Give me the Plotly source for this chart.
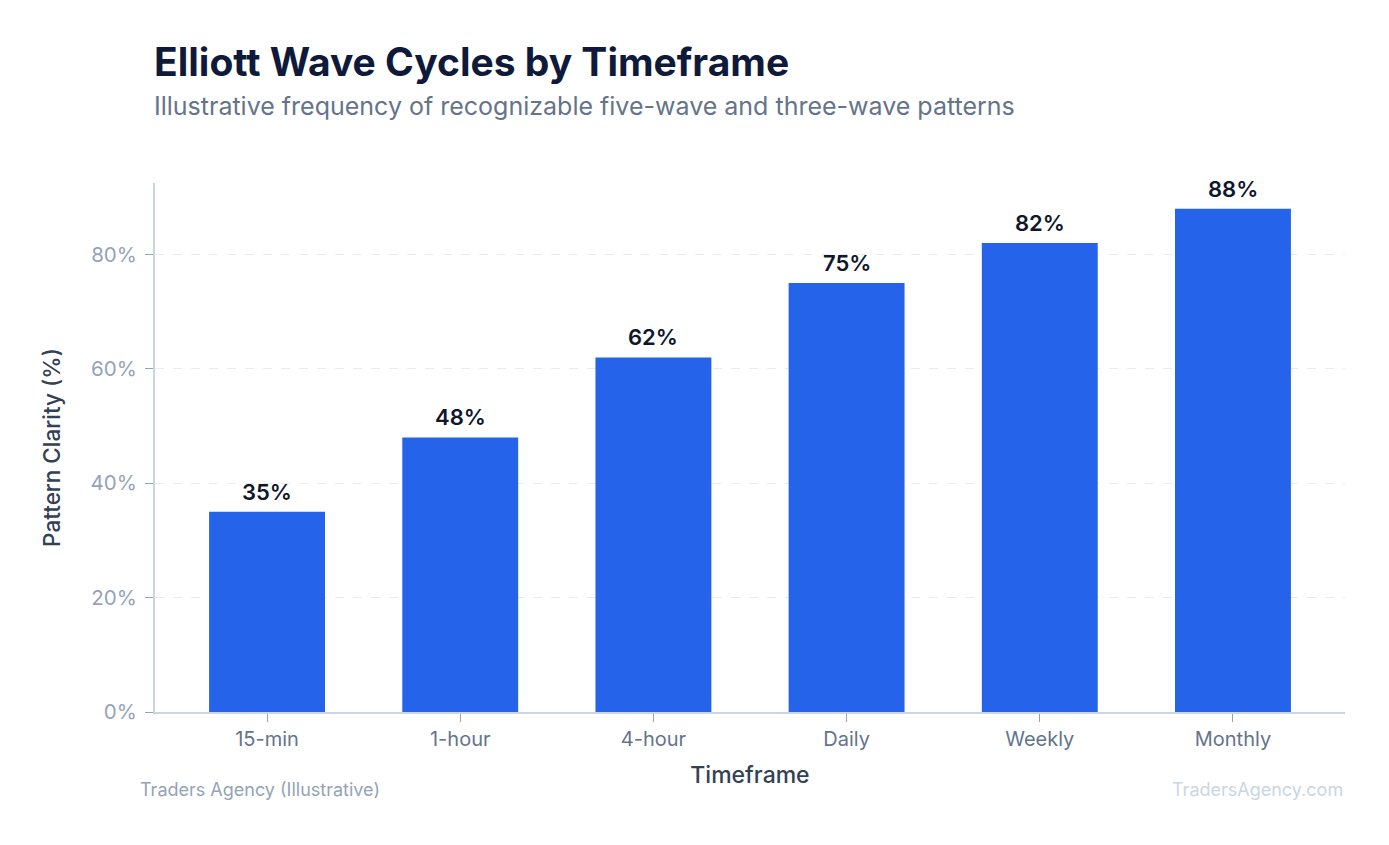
import plotly.graph_objects as go

timeframes = ['15-min', '1-hour', '4-hour', 'Daily', 'Weekly', 'Monthly']
clarity = [35, 48, 62, 75, 82, 88]
labels = [f'{v}%' for v in clarity]
y_ticks = [0, 20, 40, 60, 80]
y_tick_text = [f'{t}%' for t in y_ticks]

fig = go.Figure(go.Bar(
    x=timeframes,
    y=clarity,
    marker=dict(color='#2563eb', line=dict(width=0)),
    width=0.6,
    hovertemplate='%{x}: %{y}%<extra></extra>',
))

# value labels above each bar
for tf, v, lab in zip(timeframes, clarity, labels):
    fig.add_annotation(x=tf, y=v, text=lab, showarrow=False,
                       yanchor='bottom', yshift=5,
                       font=dict(family='Inter', size=22, color='#0f172a', weight=600))

fig.update_layout(
    width=1389,
    height=845,
    paper_bgcolor='white',
    plot_bgcolor='white',
    font=dict(family='Inter', color='#64748b'),
    margin=dict(l=147, r=52, t=175, b=141),
    showlegend=False,
    xaxis=dict(
        title=dict(text='Timeframe', font=dict(size=23, color='#334155', weight=500), standoff=17),
        tickfont=dict(size=20, color='#64748b'),
        range=[-0.58, 5.58],
        showline=True, linecolor='#cbd5e1', linewidth=2,
        ticks='outside', tickcolor='#94a3b8', ticklen=8,
        showgrid=False,
    ),
    yaxis=dict(
        title=dict(text='Pattern Clarity (%)', font=dict(size=22.5, color='#334155', weight=500), standoff=24),
        tickfont=dict(size=20.5, color='#94a3b8'),
        ticklabelstandoff=4,
        range=[0, 92.5],
        tickvals=y_ticks,
        ticktext=y_tick_text,
        showline=True, linecolor='#cbd5e1', linewidth=2,
        ticks='outside', tickcolor='#94a3b8', ticklen=8,
        showgrid=True, gridcolor='#e8ecf2', griddash='dash', gridwidth=1,
        zeroline=False,
    ),
)

# title + subtitle
fig.add_annotation(text='<b>Elliott Wave Cycles by Timeframe</b>', x=-0.0025, y=1.2306,
                   xref='paper', yref='paper', xanchor='left', yanchor='middle', showarrow=False,
                   font=dict(family='Inter', size=39, color='#0f1a3a'))
fig.add_annotation(text='Illustrative frequency of recognizable five-wave and three-wave patterns',
                   x=-0.0025, y=1.1456, xref='paper', yref='paper', xanchor='left', yanchor='middle',
                   showarrow=False, font=dict(family='Inter', size=25, color='#64748b'))

# footer
fig.add_annotation(text='Traders Agency (Illustrative)', x=-0.0143, y=-0.1456, xref='paper', yref='paper',
                   xanchor='left', yanchor='middle', showarrow=False,
                   font=dict(size=18, color='#94a3b8'))
fig.add_annotation(text='TradersAgency.com', x=1, y=-0.1456, xref='paper', yref='paper',
                   xanchor='right', yanchor='middle', showarrow=False,
                   font=dict(size=18, color='#cbd5e1'))

fig.write_html('out.html')
